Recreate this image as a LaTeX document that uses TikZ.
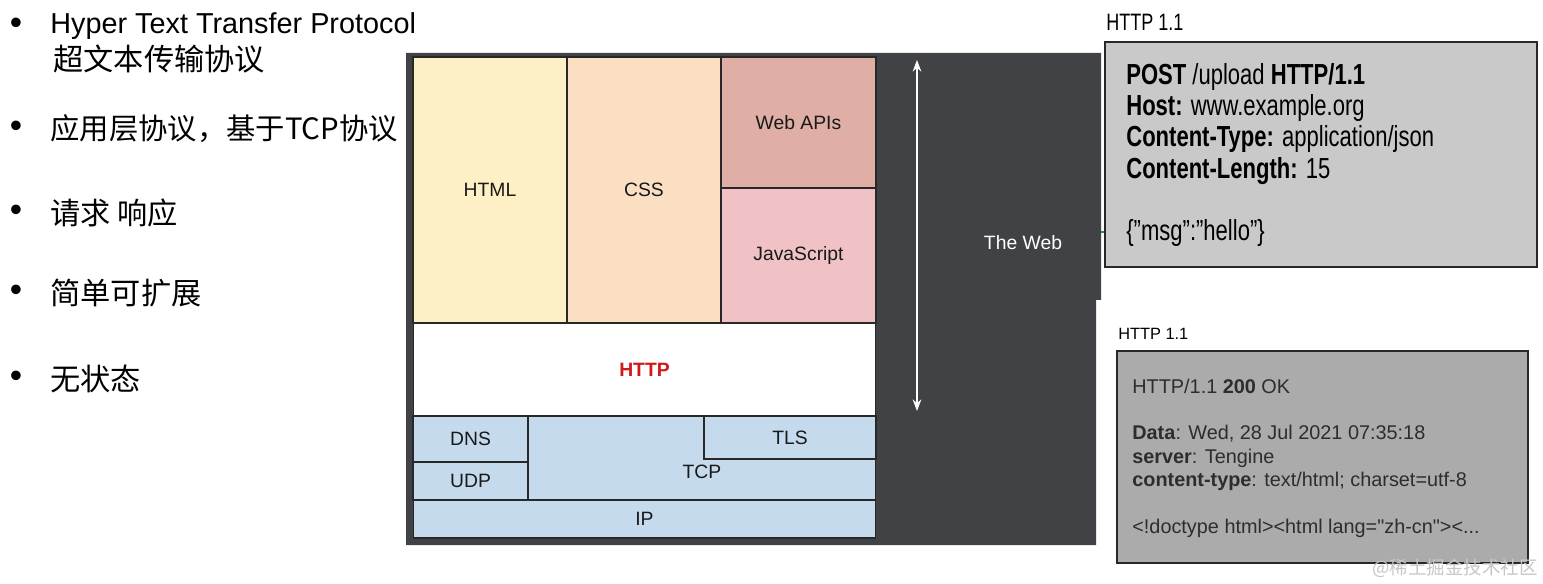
\documentclass[tikz,border=0pt]{standalone}
\usepackage{fontspec}
\setmainfont{Liberation Sans}
\newfontfamily\cjk{Noto Sans CJK SC}
\newfontfamily\condfont[FakeStretch=0.76]{Liberation Sans}
\newfontfamily\rawfont[Ligatures=TeXOff]{Liberation Sans}
\usetikzlibrary{arrows.meta, positioning}
\definecolor{webdark}{RGB}{65, 66, 70}
\definecolor{cellline}{RGB}{40, 40, 40}
\definecolor{labeltext}{RGB}{25, 25, 25}
\definecolor{htmlfill}{RGB}{252, 240, 196}
\definecolor{cssfill}{RGB}{250, 223, 195}
\definecolor{apifill}{RGB}{223, 174, 164}
\definecolor{jsfill}{RGB}{240, 194, 197}
\definecolor{netfill}{RGB}{198, 218, 238}
\definecolor{httpred}{RGB}{208, 25, 28}
\definecolor{reqfill}{RGB}{201, 201, 201}
\definecolor{resfill}{RGB}{171, 171, 171}
\definecolor{restext}{RGB}{45, 45, 45}
\definecolor{tickgreen}{RGB}{40, 140, 80}

\begin{document}
\begin{tikzpicture}[
    x=0.02cm, y=-0.02cm,
    cell/.style={draw=cellline, line width=0.6pt, inner sep=0pt,
        font=\fontsize{11}{13}\selectfont, text=labeltext},
    celltext/.style={inner sep=0pt, font=\fontsize{11}{13}\selectfont, text=labeltext},
    point/.style={anchor=west, inner sep=0pt, font=\fontsize{16.4}{19}\selectfont},
    cjkpoint/.style={point, font=\cjk\fontsize{17.2}{19}\selectfont},
    dot/.style={inner sep=0pt, font=\fontsize{20}{22}\selectfont},
    msgbox/.style={draw=cellline, line width=1.6pt, inner sep=0pt},
    >=Stealth
]
    \useasboundingbox (0,0) rectangle (1543,584);

    % left column
    \node[dot] (d1) at (16,26) {\textbullet};
    \node[point] (p1) at (50,26) {Hyper Text Transfer Protocol};
    \node[cjkpoint] (p1b) at (53,59) {超文本传输协议};
    \node[dot] (d2) at (16,129) {\textbullet};
    \node[cjkpoint, font=\cjk\fontsize{16.7}{19}\selectfont] (p2) at (50,129) {应用层协议，基于TCP协议};
    \node[dot] (d3) at (16,213) {\textbullet};
    \node[cjkpoint] (p3) at (50,213) {请求 响应};
    \node[dot] (d4) at (16,293) {\textbullet};
    \node[cjkpoint] (p4) at (50,293) {简单可扩展};
    \node[dot] (d5) at (16,379) {\textbullet};
    \node[cjkpoint] (p5) at (50,379) {无状态};

    % the web panel
    \fill[webdark] (406,53) -- (1101,53) -- (1101,300) -- (1096,300)
        -- (1096,545) -- (406,545) -- cycle;

    % stack
    \node[cell, fill=htmlfill, minimum width=3.08cm, minimum height=5.32cm] (html) at (490,190) {HTML};
    \node[cell, fill=cssfill, minimum width=3.08cm, minimum height=5.32cm] (css) at (644,190) {CSS};
    \node[cell, fill=apifill, minimum width=3.10cm, minimum height=2.62cm] (webapi) at (798.5,122.5) {Web APIs};
    \node[cell, fill=jsfill, minimum width=3.10cm, minimum height=2.70cm] (js) at (798.5,255.5) {JavaScript};
    \node[cell, fill=white, minimum width=9.26cm, minimum height=1.86cm,
        font=\fontsize{11}{13}\selectfont\bfseries, text=httpred] (http) at (644.5,369.5) {HTTP};
    \node[cell, fill=netfill, minimum width=6.96cm, minimum height=1.68cm] (tcp) at (702,458) {};
    \node[celltext] (tcptext) at (702,472) {TCP};
    \node[cell, fill=netfill, minimum width=3.44cm, minimum height=0.86cm] (tls) at (790,437.5) {TLS};
    \node[cell, fill=netfill, minimum width=2.30cm, minimum height=0.92cm] (dns) at (470.5,439) {DNS};
    \node[cell, fill=netfill, minimum width=2.30cm, minimum height=0.76cm] (udp) at (470.5,481) {UDP};
    \node[cell, fill=netfill, minimum width=9.26cm, minimum height=0.76cm] (ip) at (644.5,519) {IP};

    \coordinate (arrtop) at (917,60);
    \coordinate (arrbot) at (917,411);
    \draw[<->, white, line width=0.8pt] (arrtop) -- (arrbot);
    \node[celltext, text=white] (web) at (1023,243) {The Web};

    % request
    \node[anchor=west, inner sep=0pt, font=\condfont\fontsize{13.5}{15}\selectfont]
        (reqver) at (1106,22) {HTTP 1.1};
    \node[msgbox, fill=reqfill, minimum width=8.64cm, minimum height=4.5cm] (request) at (1321,154.5) {};
    \node[anchor=west, inner sep=0pt, align=left,
        font=\condfont\fontsize{16.5}{17.86}\selectfont] (reqbody) at (1126,155)
        {\textbf{POST} /upload \textbf{HTTP/1.1}\\
         \textbf{Host:} www.example.org\\
         \textbf{Content-Type:} application/json\\
         \textbf{Content-Length:} 15\\[17.86pt]
         \{”msg”:”hello”\}};
    \coordinate (webedge) at (1101,232);
    \draw[tickgreen, line width=1.2pt] (webedge) -- (request.west |- webedge);

    % response
    \node[anchor=west, inner sep=0pt, font=\fontsize{9.3}{11}\selectfont]
        (resver) at (1118,334) {HTTP 1.1};
    \node[msgbox, fill=resfill, minimum width=8.22cm, minimum height=4.24cm] (response) at (1322.5,457) {};
    \node[anchor=west, inner sep=0pt, align=left, text=restext,
        font=\rawfont\fontsize{11.3}{13.3}\selectfont] (resbody) at (1132,458)
        {HTTP/1.1 \textbf{200} OK\\[13.3pt]
         \textbf{Data}: Wed, 28 Jul 2021 07:35:18\\
         \textbf{server}: Tengine\\
         \textbf{content-type}: text/html; charset=utf-8\\[13.3pt]
         <!doctype html><html lang="zh-cn"><...};

    \node[inner sep=0pt, text=gray!45, font=\cjk\fontsize{10.5}{12}\selectfont]
        (mark) at (1455,568) {@稀土掘金技术社区};
\end{tikzpicture}
\end{document}
